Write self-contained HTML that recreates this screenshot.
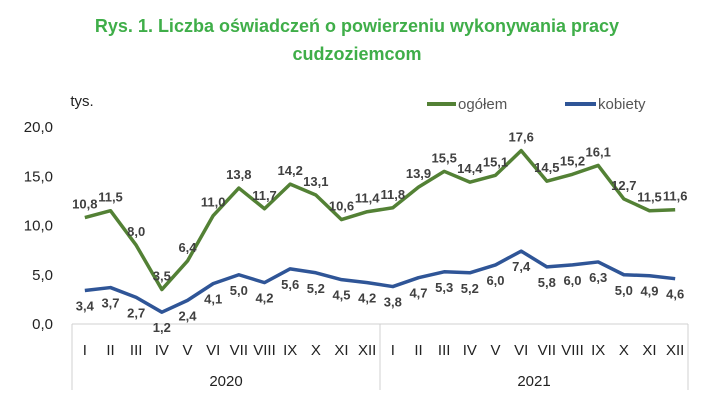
<!DOCTYPE html>
<html><head><meta charset="utf-8"><style>
body{margin:0;background:#fff;}
svg{font-family:"Liberation Sans",sans-serif;display:block;}
</style></head><body>
<svg width="715" height="405">
<text x="357" y="32" text-anchor="middle" font-size="18" font-weight="bold" fill="#3fae49">Rys. 1. Liczba oświadczeń o powierzeniu wykonywania pracy</text>
<text x="357" y="60" text-anchor="middle" font-size="18" font-weight="bold" fill="#3fae49">cudzoziemcom</text>
<text x="82" y="106" text-anchor="middle" font-size="15" fill="#222">tys.</text>
<g>
<line x1="427" y1="104" x2="456" y2="104" stroke="#538135" stroke-width="4"/>
<text x="458" y="109" font-size="15" fill="#555">ogółem</text>
<line x1="565" y1="104" x2="596" y2="104" stroke="#2f5597" stroke-width="4"/>
<text x="598" y="109" font-size="15" fill="#555">kobiety</text>
</g>
<g id="axes"></g>
<g id="marks"></g>
</svg>
<script>
const months=["I","II","III","IV","V","VI","VII","VIII","IX","X","XI","XII","I","II","III","IV","V","VI","VII","VIII","IX","X","XI","XII"];
const years=["2020","2021"];
const ogolem=[10.8,11.5,8.0,3.5,6.4,11.0,13.8,11.7,14.2,13.1,10.6,11.4,11.8,13.9,15.5,14.4,15.1,17.6,14.5,15.2,16.1,12.7,11.5,11.6];
const kobiety=[3.4,3.7,2.7,1.2,2.4,4.1,5.0,4.2,5.6,5.2,4.5,4.2,3.8,4.7,5.3,5.2,6.0,7.4,5.8,6.0,6.3,5.0,4.9,4.6];
const yTicks=[0,5,10,15,20];
const NS="http://www.w3.org/2000/svg";
const L=72,R=688,Y0=324,Ytop=127,YMAX=20;
const bw=(R-L)/months.length;
const x=i=>L+bw*(i+0.5);
const y=v=>Y0-(Y0-Ytop)*v/YMAX;
const fmt=v=>v.toFixed(1).replace('.',',');
function mk(tag,attrs,parent,text){const e=document.createElementNS(NS,tag);for(const k in attrs)e.setAttribute(k,attrs[k]);if(text!==undefined)e.textContent=text;parent.appendChild(e);return e;}
const ax=document.getElementById('axes'),mg=document.getElementById('marks');
yTicks.forEach(t=>{const e=mk('text',{x:53,y:y(t)+5,'text-anchor':'end','font-size':15,fill:'#222'},ax,fmt(t));

});
let a=mk('line',{x1:L,y1:Y0,x2:R,y2:Y0,stroke:'#d0d0d0','stroke-width':1},ax);


[L,(L+R)/2,R].forEach(xx=>{const e=mk('line',{x1:xx,y1:Y0,x2:xx,y2:390,stroke:'#d0d0d0','stroke-width':1},ax);

});
months.forEach((m,i)=>{const e=mk('text',{x:x(i),y:355,'text-anchor':'middle','font-size':15,fill:'#222'},ax,m);

});
years.forEach((yr,j)=>{const e=mk('text',{x:L+(R-L)/4*(2*j+1),y:386,'text-anchor':'middle','font-size':15,fill:'#222'},ax,yr);

});
function series(data,color,name,above){
 const p=mk('polyline',{points:data.map((v,i)=>x(i)+','+y(v)).join(' '),fill:'none',stroke:color,'stroke-width':3.5,'stroke-linejoin':'round'},mg);
 
 
 data.forEach((v,i)=>{const t=mk('text',{x:x(i),y:above?y(v)-9:y(v)+20,'text-anchor':'middle','font-size':13,'font-weight':'bold',fill:'#404040'},mg,fmt(v));
 
 });
}
series(ogolem,'#538135','ogolem',true);
series(kobiety,'#2f5597','kobiety',false);
</script>
</body></html>
